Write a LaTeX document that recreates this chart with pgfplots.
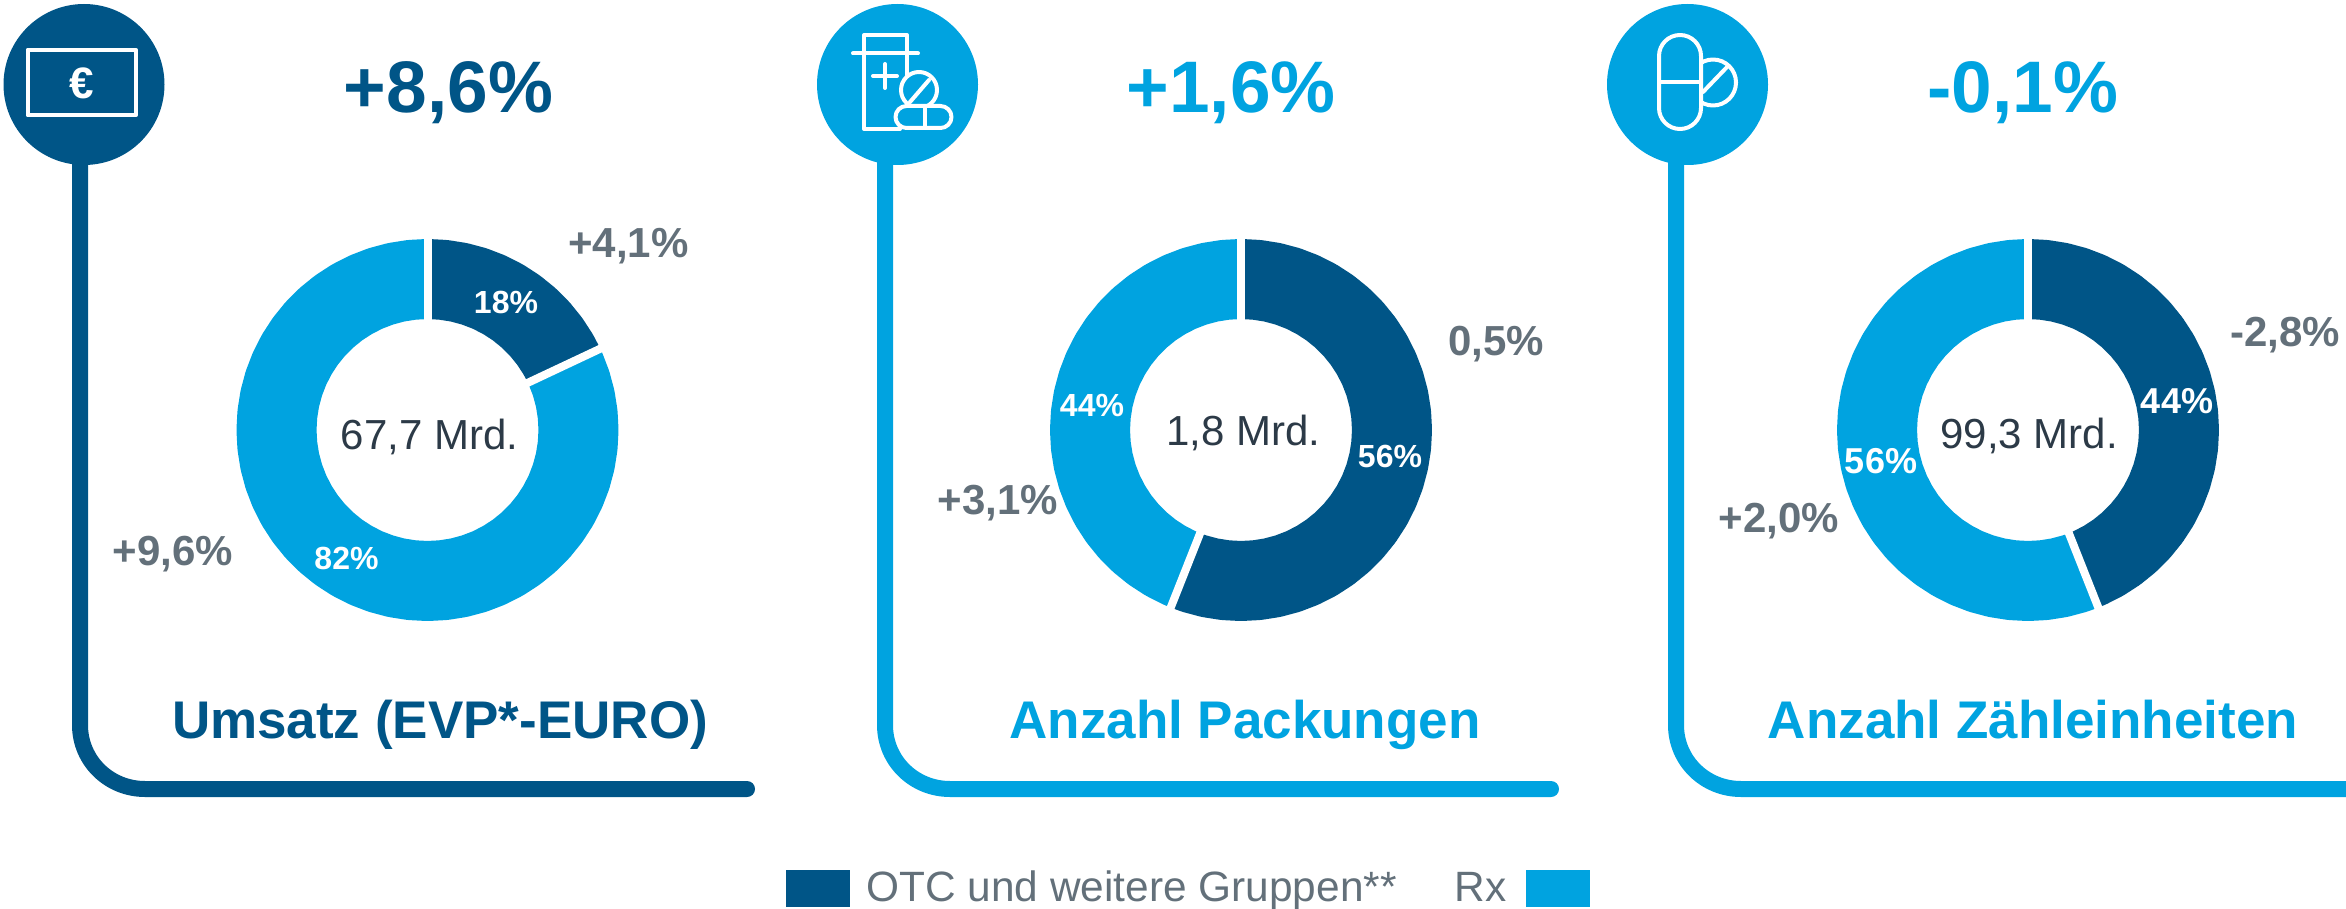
\documentclass[border=0pt]{standalone}
\usepackage{fontspec}
\setmainfont{Liberation Sans}
\usepackage{pgfplots}
\pgfplotsset{compat=1.18}
\usepgfplotslibrary{polar}

\definecolor{dunkel}{HTML}{005587}
\definecolor{hell}{HTML}{00A3E0}
\definecolor{grau}{HTML}{63707A}
\definecolor{schrift}{HTML}{2C3A47}

% one donut: polar axis, radial unit = px of the reference, radius 191
\pgfplotsset{donut/.style={
  hide axis, scale only axis, clip=false,
  width=191pt, height=191pt,
  xmin=0, xmax=360, ymin=0, ymax=191,
  anchor=center,
}}
\tikzset{
  ring/.style={line width=40pt, line join=round},
  gap/.style={white, line width=4pt},
  lbl/.style={inner sep=0pt, anchor=base},
  icon/.style={white, line width=2pt, line cap=round, line join=round},
}
\newcommand{\fsize}[1]{\fontsize{#1}{#1}\selectfont}

\begin{document}
\begin{tikzpicture}
\useasboundingbox (0,0) rectangle (1173pt,-454.5pt);

% donut 1: OTC 18 %, Rx 82 %
\begin{polaraxis}[donut, at={(213.75pt,-215pt)}]
\addplot[ring, dunkel] coordinates {
  (90,151)(84,151)(78,151)(72,151)(66,151)(60,151)(54,151)(48,151)(42,151)(36,151)(30,151)(25.2,151)};
\addplot[ring, hell] coordinates {
  (25.2,151)(24,151)(18,151)(12,151)(6,151)(0,151)(-6,151)(-12,151)(-18,151)(-24,151)(-30,151)
  (-36,151)(-42,151)(-48,151)(-54,151)(-60,151)(-66,151)(-72,151)(-78,151)(-84,151)(-90,151)
  (-96,151)(-102,151)(-108,151)(-114,151)(-120,151)(-126,151)(-132,151)(-138,151)(-144,151)(-150,151)
  (-156,151)(-162,151)(-168,151)(-174,151)(-180,151)(-186,151)(-192,151)(-198,151)(-204,151)(-210,151)
  (-216,151)(-222,151)(-228,151)(-234,151)(-240,151)(-246,151)(-252,151)(-258,151)(-264,151)(-270,151)};
\addplot[gap] coordinates {(90,105)(90,197)};
\addplot[gap] coordinates {(25.2,105)(25.2,197)};
\end{polaraxis}

% donut 2: OTC 56 %, Rx 44 %
\begin{polaraxis}[donut, at={(620.5pt,-215pt)}]
\addplot[ring, dunkel] coordinates {
  (90,151)(84,151)(78,151)(72,151)(66,151)(60,151)(54,151)(48,151)(42,151)(36,151)(30,151)
  (24,151)(18,151)(12,151)(6,151)(0,151)(-6,151)(-12,151)(-18,151)(-24,151)(-30,151)
  (-36,151)(-42,151)(-48,151)(-54,151)(-60,151)(-66,151)(-72,151)(-78,151)(-84,151)(-90,151)
  (-96,151)(-102,151)(-108,151)(-111.6,151)};
\addplot[ring, hell] coordinates {
  (-111.6,151)(-114,151)(-120,151)(-126,151)(-132,151)(-138,151)(-144,151)(-150,151)
  (-156,151)(-162,151)(-168,151)(-174,151)(-180,151)(-186,151)(-192,151)(-198,151)(-204,151)(-210,151)
  (-216,151)(-222,151)(-228,151)(-234,151)(-240,151)(-246,151)(-252,151)(-258,151)(-264,151)(-270,151)};
\addplot[gap] coordinates {(90,105)(90,197)};
\addplot[gap] coordinates {(-111.6,105)(-111.6,197)};
\end{polaraxis}

% donut 3: OTC 44 %, Rx 56 %
\begin{polaraxis}[donut, at={(1014pt,-215pt)}]
\addplot[ring, dunkel] coordinates {
  (90,151)(84,151)(78,151)(72,151)(66,151)(60,151)(54,151)(48,151)(42,151)(36,151)(30,151)
  (24,151)(18,151)(12,151)(6,151)(0,151)(-6,151)(-12,151)(-18,151)(-24,151)(-30,151)
  (-36,151)(-42,151)(-48,151)(-54,151)(-60,151)(-66,151)(-68.4,151)};
\addplot[ring, hell] coordinates {
  (-68.4,151)(-72,151)(-78,151)(-84,151)(-90,151)
  (-96,151)(-102,151)(-108,151)(-114,151)(-120,151)(-126,151)(-132,151)(-138,151)(-144,151)(-150,151)
  (-156,151)(-162,151)(-168,151)(-174,151)(-180,151)(-186,151)(-192,151)(-198,151)(-204,151)(-210,151)
  (-216,151)(-222,151)(-228,151)(-234,151)(-240,151)(-246,151)(-252,151)(-258,151)(-264,151)(-270,151)};
\addplot[gap] coordinates {(90,105)(90,197)};
\addplot[gap] coordinates {(-68.4,105)(-68.4,197)};
\end{polaraxis}

% everything else in px of the reference
\begin{scope}[x=0.5pt, y=-0.5pt]
% connectors
\draw[dunkel, line width=8pt, line cap=round] (80,84) -- (80,725) .. controls (80,760.9) and (109.1,789) .. (145,789) -- (747,789);
\draw[hell, line width=8pt, line cap=round] (885,84) -- (885,725) .. controls (885,760.9) and (914.1,789) .. (950,789) -- (1551,789);
\draw[hell, line width=8pt, line cap=round] (1676,84) -- (1676,725) .. controls (1676,760.9) and (1705.1,789) .. (1741,789) -- (2370,789);

% circles
\fill[dunkel] (84,84.5) circle[radius=80.5];
\fill[hell] (897.5,84.5) circle[radius=80.5];
\fill[hell] (1687.5,84.5) circle[radius=80.5];

% icon 1: note
\draw[icon] (27.7,49.7) rectangle (135.7,115.3);
\node[lbl, white, font=\fsize{22}\bfseries] at (82,98.5) {€};

% icon 2: bottle with pills
\draw[icon] (907,75) -- (907,35) -- (864,35) -- (864,129) -- (900,129);
\draw[icon] (853,53.5) -- (918,53.5);
\draw[icon] (873,76) -- (897,76) (885,64) -- (885,88);
\draw[icon] (919,90) circle[radius=18];
\draw[icon] (929,80) -- (910,102);
\draw[icon, fill=hell, rounded corners=5.5pt] (895.5,106) rectangle (951.5,128);
\draw[icon] (925,106) -- (925,128);

% icon 3: capsule and tablet
\draw[icon] (1713,82.5) circle[radius=23];
\draw[icon] (1728,66) -- (1703,92);
\draw[icon, fill=hell, rounded corners=10.5pt] (1659,35) rectangle (1701,129);
\draw[icon] (1659,82) -- (1701,82);

% headline changes
\node[lbl, dunkel, font=\fsize{36.5}\bfseries] at (448.5,113) {+8,6\%};
\node[lbl, hell, font=\fsize{36.5}\bfseries] at (1231,113) {+1,6\%};
\node[lbl, hell, font=\fsize{36.5}\bfseries] at (2023,113) {-0,1\%};

% changes per segment
\foreach \x/\y/\t in {628.5/258/+4{,}1\%, 173/565/+9{,}6\%, 1496/356/0{,}5\%, 998/514/+3{,}1\%, 2285/347/-2{,}8\%, 1779/532/+2{,}0\%}
  \node[lbl, grau, font=\fsize{21}\bfseries] at (\x,\y) {\t};

% shares
\foreach \x/\y/\t in {506/314/18\%, 346.5/569/82\%, 1092/416/44\%, 1390/467/56\%}
  \node[lbl, white, font=\fsize{16}\bfseries] at (\x,\y) {\t};
\foreach \x/\y/\t in {2177/413/44\%, 1881/473/56\%}
  \node[lbl, white, font=\fsize{18}\bfseries] at (\x,\y) {\t};

% totals
\node[lbl, schrift, font=\fsize{21}] at (429.5,449) {67,7 Mrd.};
\node[lbl, schrift, font=\fsize{21}] at (1243.5,445) {1,8 Mrd.};
\node[lbl, schrift, font=\fsize{21}] at (2029,448) {99,3 Mrd.};

% titles
\node[lbl, dunkel, font=\fsize{26.5}\bfseries] at (440,738) {Umsatz (EVP*-EURO)};
\node[lbl, hell, font=\fsize{26.5}\bfseries] at (1245,738) {Anzahl Packungen};
\node[lbl, hell, font=\fsize{26.5}\bfseries] at (2033,738) {Anzahl Zähleinheiten};

% legend
\fill[dunkel] (786,870) rectangle (850,907);
\node[inner sep=0pt, anchor=base west, grau, font=\fsize{21.2}] at (866,901) {OTC und weitere Gruppen**};
\node[inner sep=0pt, anchor=base west, grau, font=\fsize{21.2}] at (1454,901) {Rx};
\fill[hell] (1526,870) rectangle (1590,907);
\end{scope}
\end{tikzpicture}
\end{document}
